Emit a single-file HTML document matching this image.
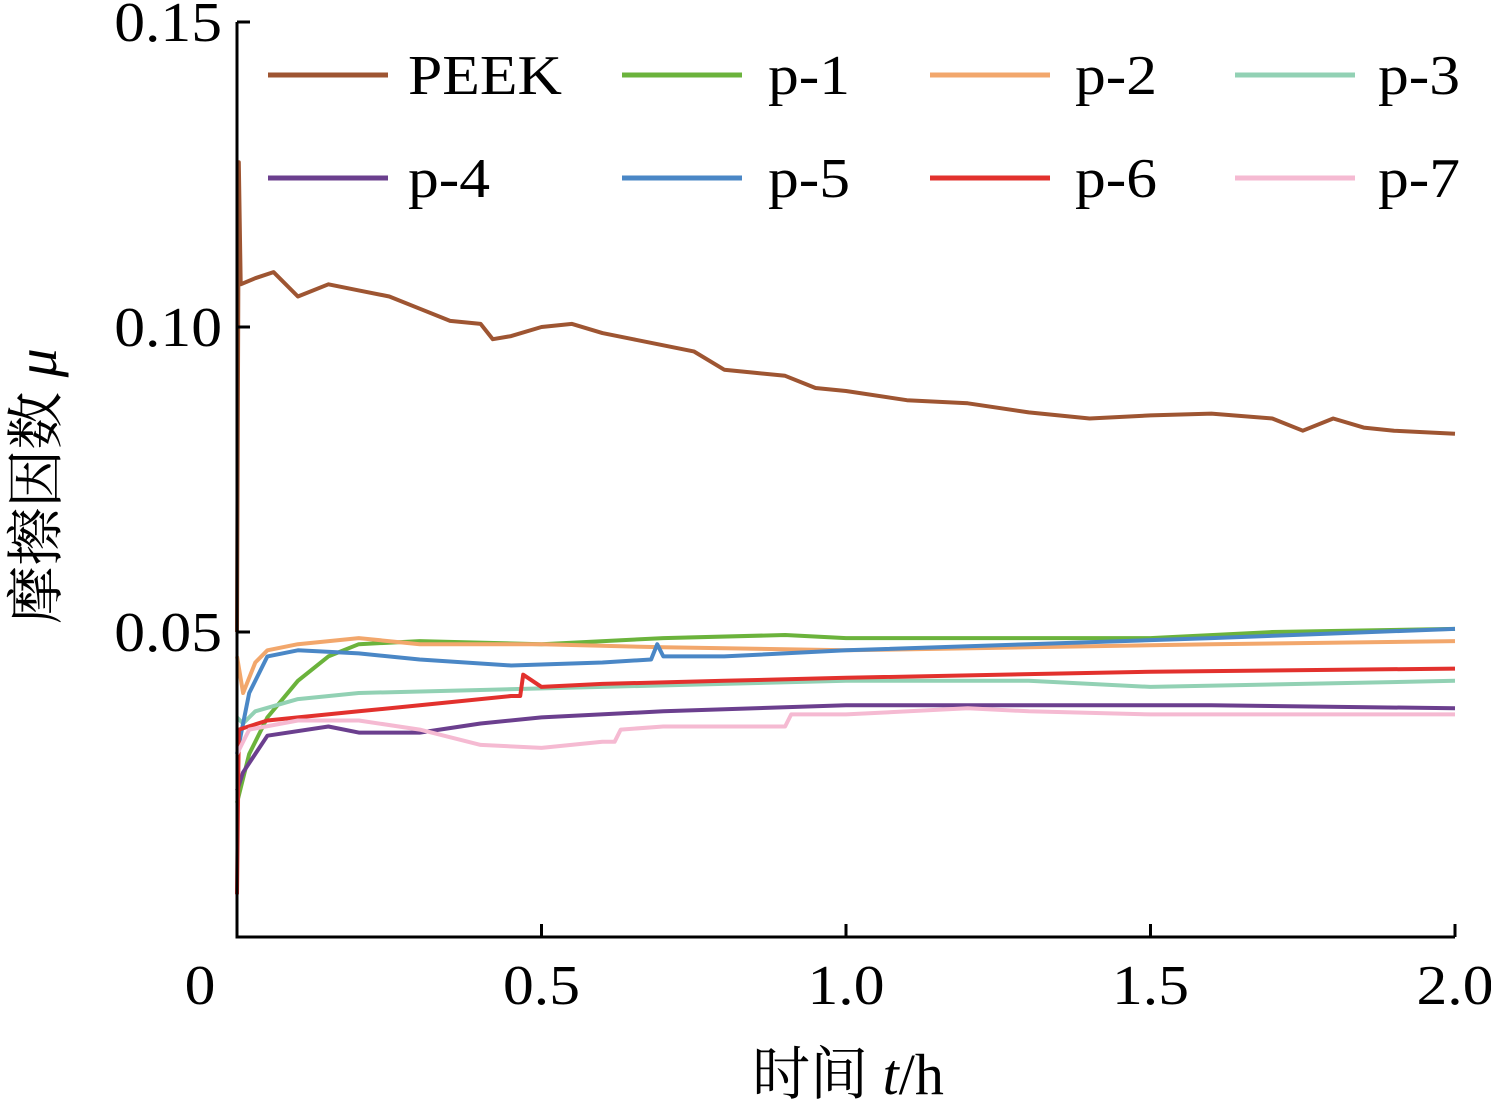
<!DOCTYPE html>
<html><head><meta charset="utf-8"><style>
html,body{margin:0;padding:0;background:#fff;}
svg{display:block;font-family:"Liberation Serif","Noto Serif CJK SC",serif;}
</style></head><body>
<svg id="chart" width="1491" height="1103" viewBox="0 0 1491 1103" xmlns="http://www.w3.org/2000/svg"></svg>
<script>
const xTicks=[0,0.5,1.0,1.5,2.0];
const xTickLabels=["0","0.5","1.0","1.5","2.0"];
const yTicks=[0.05,0.10,0.15];
const yTickLabels=["0.05","0.10","0.15"];
const seriesNames=["PEEK","p-1","p-2","p-3","p-4","p-5","p-6","p-7"];
const seriesColors=["#9e5532","#6bb33c","#f2a76c","#92d1b4","#6b3f8e","#4a87c6","#e2312d","#f5bad2"];
const peek=[[0,0.05],[0.003,0.127],[0.006,0.107],[0.03,0.108],[0.06,0.109],[0.1,0.105],[0.15,0.107],[0.2,0.106],[0.25,0.105],[0.3,0.103],[0.35,0.101],[0.4,0.1005],[0.42,0.098],[0.45,0.0985],[0.5,0.1],[0.55,0.1005],[0.6,0.099],[0.65,0.098],[0.7,0.097],[0.75,0.096],[0.8,0.093],[0.85,0.0925],[0.9,0.092],[0.95,0.09],[1.0,0.0895],[1.1,0.088],[1.2,0.0875],[1.3,0.086],[1.4,0.085],[1.5,0.0855],[1.6,0.0858],[1.7,0.085],[1.75,0.083],[1.8,0.085],[1.85,0.0835],[1.9,0.083],[2.0,0.0825]];
const p1=[[0,0.022],[0.02,0.03],[0.05,0.036],[0.1,0.042],[0.15,0.046],[0.2,0.048],[0.3,0.0485],[0.5,0.048],[0.7,0.049],[0.9,0.0495],[1.0,0.049],[1.2,0.049],[1.5,0.049],[1.7,0.05],[2.0,0.0505]];
const p2=[[0,0.046],[0.01,0.04],[0.03,0.045],[0.05,0.047],[0.1,0.048],[0.2,0.049],[0.3,0.048],[0.5,0.048],[0.7,0.0475],[1.0,0.047],[1.3,0.0475],[1.6,0.048],[2.0,0.0485]];
const p3=[[0,0.036],[0.01,0.035],[0.03,0.037],[0.1,0.039],[0.2,0.04],[0.4,0.0405],[0.6,0.041],[1.0,0.042],[1.3,0.042],[1.5,0.041],[2.0,0.042]];
const p4=[[0,0.024],[0.01,0.027],[0.05,0.033],[0.15,0.0345],[0.2,0.0335],[0.3,0.0335],[0.4,0.035],[0.5,0.036],[0.7,0.037],[1.0,0.038],[1.3,0.038],[1.6,0.038],[2.0,0.0375]];
const p5=[[0,0.03],[0.02,0.04],[0.05,0.046],[0.1,0.047],[0.2,0.0465],[0.3,0.0455],[0.45,0.0445],[0.6,0.045],[0.68,0.0455],[0.69,0.048],[0.7,0.046],[0.8,0.046],[1.0,0.047],[1.3,0.048],[1.6,0.049],[2.0,0.0505]];
const p6=[[0,0.007],[0.003,0.034],[0.05,0.0355],[0.1,0.036],[0.2,0.037],[0.3,0.038],[0.45,0.0395],[0.465,0.0395],[0.47,0.043],[0.5,0.041],[0.6,0.0415],[0.8,0.042],[1.0,0.0425],[1.5,0.0435],[2.0,0.044]];
const p7=[[0,0.03],[0.02,0.034],[0.1,0.0355],[0.2,0.0355],[0.3,0.034],[0.4,0.0315],[0.5,0.031],[0.6,0.032],[0.62,0.032],[0.63,0.034],[0.7,0.0345],[0.9,0.0345],[0.91,0.0365],[1.0,0.0365],[1.2,0.0375],[1.3,0.037],[1.5,0.0365],[2.0,0.0365]];
const seriesData=[peek,p1,p2,p3,p4,p5,p6,p7];

const NS="http://www.w3.org/2000/svg";
const svg=document.getElementById('chart');
const X0=237,X1=1455,Y0=937,Y1=22;
const xs=v=>X0+(v/2.0)*(X1-X0);
const ys=v=>Y0-(v/0.15)*(Y0-Y1);
const FS=56, SX=1.1;
function mk(tag,attrs,parent){const e=document.createElementNS(NS,tag);for(const k in attrs)e.setAttribute(k,attrs[k]);(parent||svg).appendChild(e);return e;}
function txt(x,y,anchor,parent){return mk('text',{x:0,y:0,'text-anchor':anchor,'font-size':FS,transform:`translate(${x},${y}) scale(${SX},1)`},parent);}

seriesData.forEach((d,i)=>{
  const p=mk('polyline',{points:d.map(q=>xs(q[0]).toFixed(1)+','+ys(q[1]).toFixed(1)).join(' '),fill:'none',stroke:seriesColors[i],'stroke-width':4,'stroke-linejoin':'round'});
  
  
});
const ax=mk('path',{d:`M${X0},${Y1} V${Y0} H${X1}`,fill:'none',stroke:'#000','stroke-width':3});


xTicks.forEach((v,i)=>{
  if(v>0){const t=mk('line',{x1:xs(v),x2:xs(v),y1:Y0,y2:Y0-13,stroke:'#000','stroke-width':3});
  
  }
  const l=txt(v===0?200:xs(v),1004,'middle');
  l.textContent=xTickLabels[i];
  
  
});
yTicks.forEach((v,i)=>{
  const t=mk('line',{x1:X0,x2:X0+13,y1:ys(v),y2:ys(v),stroke:'#000','stroke-width':3});
  
  
  const l=txt(222,ys(v)+19,'end');
  l.textContent=yTickLabels[i];
  
  
});
const xt=mk('text',{x:0,y:0,'text-anchor':'middle','font-size':58,transform:'translate(848,1094) scale(1.0,1)'});
xt.innerHTML='时间 <tspan font-style="italic">t</tspan>/h';


const yt=mk('text',{x:0,y:0,'text-anchor':'middle','font-size':58,transform:'translate(56,486) rotate(-90) scale(1.0,1)'});
yt.innerHTML='摩擦因数 <tspan font-style="italic">μ</tspan>';


const lx=[268,622,930,1235],tx=[408,768,1075,1378],ry=[75,178];
seriesNames.forEach((n,i)=>{
  const c=i%4,r=Math.floor(i/4);
  const g=mk('g',{});
  
  
  mk('line',{x1:lx[c],x2:lx[c]+120,y1:ry[r],y2:ry[r],stroke:seriesColors[i],'stroke-width':5},g);
  const t=txt(tx[c],ry[r]+19,'start',g);
  t.textContent=n;
});
</script>
</body></html>
